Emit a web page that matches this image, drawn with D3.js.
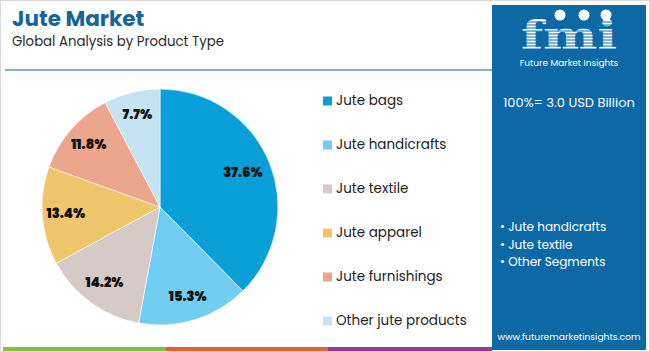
<!DOCTYPE html>
<html>
<head>
<meta charset="utf-8">
<script src="https://cdn.jsdelivr.net/npm/d3@7"></script>
<style>
  body { margin: 0; background: #fff; }
  svg { display: block; font-family: "Poppins", "Lato", "Open Sans", sans-serif; }
</style>
</head>
<body>
<div id="canvas"></div>
<script>
"use strict"

/* Data */
let categories = ["Jute bags", "Jute handicrafts", "Jute textile", "Jute apparel", "Jute furnishings", "Other jute products"];
let shares = [37.6, 15.3, 14.2, 13.4, 11.8, 7.7];
let sliceColors = ["#0a9fd8", "#72cdf2", "#d6cac6", "#efc66b", "#eca68e", "#c5e3f2"];
let panelBullets = ["Jute handicrafts", "Jute textile", "Other Segments"];
let stripColors = ["#86bd4a", "#e2603c", "#923b8f"];
let stripStops = [3, 166, 328, 492];

/* Drawing config */
let svgWidth = 650;
let svgHeight = 352;
let pieCx = 160;
let pieCy = 207;
let pieR = 118;

let svg = d3.select("#canvas")
    .append("svg")
    .attr("width", svgWidth)
    .attr("height", svgHeight);

// outer frame
svg.append("rect")
    .attr("x", 0.5).attr("y", 0.5)
    .attr("width", svgWidth - 1).attr("height", svgHeight - 1)
    .attr("fill", "#fff")
    .attr("stroke", "#d9d9d9");

/**** header ****/
svg.append("text")
    .attr("x", 12).attr("y", 26)
    .attr("font-size", 21.5)
    .attr("font-weight", "bold")
    .attr("fill", "#17649c")
    .text("Jute Market");

svg.append("text")
    .attr("x", 12).attr("y", 46)
    .attr("font-size", 13.3)
    .attr("fill", "#2a2a2a")
    .text("Global Analysis by Product Type");

svg.append("line")
    .attr("x1", 5).attr("x2", 492)
    .attr("y1", 70).attr("y2", 70)
    .attr("stroke", "#5f93bd")
    .attr("stroke-width", 1.5);

/**** pie ****/
let pie = d3.pie().sort(null).value(function(d) { return d; });
let arcs = pie(shares);
let arc = d3.arc().innerRadius(0).outerRadius(pieR);
let labelArc = d3.arc().innerRadius(pieR * 0.8).outerRadius(pieR * 0.8);

let pieG = svg.append("g").attr("transform", "translate(" + pieCx + "," + pieCy + ")");

pieG.selectAll("path")
    .data(arcs)
    .join("path")
    .attr("d", arc)
    .attr("fill", function(d, i) { return sliceColors[i]; })
    .attr("stroke", "#fff")
    .attr("stroke-width", 0.6);

pieG.selectAll("text")
    .data(arcs)
    .join("text")
    .attr("transform", function(d, i) {
        let c = labelArc.centroid(d);
        if (i === 0) { c = d3.arc().innerRadius(pieR * 0.76).outerRadius(pieR * 0.76).centroid(d); }
        return "translate(" + c[0] + "," + c[1] + ")";
    })
    .attr("text-anchor", "middle")
    .attr("dominant-baseline", "middle")
    .attr("font-size", 13)
    .attr("font-weight", "900")
    .attr("fill", "#111")
    .text(function(d) { return d.data.toFixed(1) + "%"; });

/**** legend ****/
let legendY = d3.scalePoint().domain(categories).range([101, 321]);

let legend = svg.selectAll("g.legend")
    .data(categories)
    .join("g")
    .attr("class", "legend")
    .attr("transform", function(d) { return "translate(323," + legendY(d) + ")"; });

legend.append("rect")
    .attr("x", 0).attr("y", -4.5)
    .attr("width", 9).attr("height", 9)
    .attr("fill", function(d, i) { return sliceColors[i]; });

legend.append("text")
    .attr("x", 13).attr("y", 0)
    .attr("dominant-baseline", "middle")
    .attr("font-size", 13.5)
    .attr("fill", "#222")
    .text(function(d) { return d; });

/**** bottom strip ****/
svg.selectAll("rect.strip")
    .data(stripColors)
    .join("rect")
    .attr("class", "strip")
    .attr("x", function(d, i) { return stripStops[i]; })
    .attr("y", 347)
    .attr("width", function(d, i) { return stripStops[i + 1] - stripStops[i]; })
    .attr("height", 4)
    .attr("fill", function(d) { return d; });

/**** right panel ****/
let panelX = 492;
let panelW = 154;
let panelMid = panelX + panelW / 2;

svg.append("rect")
    .attr("x", panelX).attr("y", 5)
    .attr("width", panelW).attr("height", 345)
    .attr("fill", "#0d68a6");

// logo
svg.append("text")
    .attr("x", panelMid).attr("y", 49)
    .attr("text-anchor", "middle")
    .attr("font-family", "DejaVu Serif, serif")
    .attr("font-size", 40)
    .attr("font-weight", "bold")
    .attr("textLength", 96)
    .attr("lengthAdjust", "spacingAndGlyphs")
    .attr("fill", "#fff")
    .text("fmi");

for (let y = 22; y < 50; y += 3) {
    svg.append("line")
        .attr("x1", panelX + 20).attr("x2", panelX + panelW - 20)
        .attr("y1", y).attr("y2", y)
        .attr("stroke", "#0d68a6")
        .attr("stroke-width", 1);
}

let iconX = [560, 584, 606];
for (let i = 0; i < iconX.length; i++) {
    svg.append("circle")
        .attr("cx", iconX[i]).attr("cy", 15)
        .attr("r", 5.5)
        .attr("fill", "#fff");
}

svg.append("text")
    .attr("x", panelMid).attr("y", 66)
    .attr("text-anchor", "middle")
    .attr("font-size", 9)
    .attr("fill", "#fff")
    .text("Future Market Insights");

svg.append("text")
    .attr("x", panelMid).attr("y", 103)
    .attr("text-anchor", "middle")
    .attr("dominant-baseline", "middle")
    .attr("font-size", 13)
    .attr("fill", "#fff")
    .text("100%= 3.0 USD Billion");

svg.selectAll("text.bullet")
    .data(panelBullets)
    .join("text")
    .attr("class", "bullet")
    .attr("x", 500)
    .attr("y", function(d, i) { return 228 + i * 17.5; })
    .attr("dominant-baseline", "middle")
    .attr("font-size", 12)
    .attr("fill", "#fff")
    .text(function(d) { return "\u2022 " + d; });

svg.append("text")
    .attr("x", panelMid).attr("y", 337)
    .attr("text-anchor", "middle")
    .attr("dominant-baseline", "middle")
    .attr("font-size", 9.2)
    .attr("fill", "#fff")
    .text("www.futuremarketinsights.com");
</script>
</body>
</html>
